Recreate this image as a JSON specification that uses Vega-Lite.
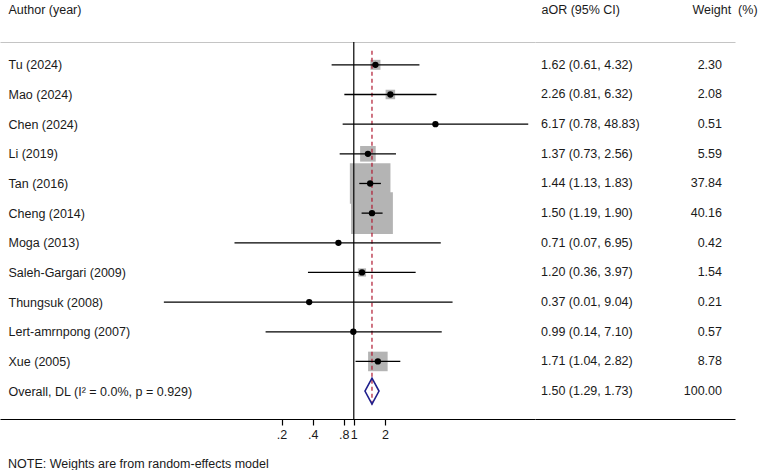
{
  "$schema": "https://vega.github.io/schema/vega-lite/v6.json",
  "background": "white",
  "padding": {"top": 3, "left": 0, "right": 0, "bottom": 0},
  "config": {
    "view": {"stroke": null},
    "font": "Liberation Sans",
    "text": {"font": "Liberation Sans", "fontSize": 12.5, "color": "#1a1a1a"},
    "axis": {"labelFont": "Liberation Sans", "titleFont": "Liberation Sans", "grid": false}
  },
  "datasets": {
    "studies": [
      {"study": "Tu (2024)", "kind": "study", "or": 1.62, "lo": 0.61, "hi": 4.32, "weight": 2.30},
      {"study": "Mao (2024)", "kind": "study", "or": 2.26, "lo": 0.81, "hi": 6.32, "weight": 2.08},
      {"study": "Chen (2024)", "kind": "study", "or": 6.17, "lo": 0.78, "hi": 48.83, "weight": 0.51},
      {"study": "Li (2019)", "kind": "study", "or": 1.37, "lo": 0.73, "hi": 2.56, "weight": 5.59},
      {"study": "Tan (2016)", "kind": "study", "or": 1.44, "lo": 1.13, "hi": 1.83, "weight": 37.84},
      {"study": "Cheng (2014)", "kind": "study", "or": 1.50, "lo": 1.19, "hi": 1.90, "weight": 40.16},
      {"study": "Moga (2013)", "kind": "study", "or": 0.71, "lo": 0.07, "hi": 6.95, "weight": 0.42},
      {"study": "Saleh-Gargari (2009)", "kind": "study", "or": 1.20, "lo": 0.36, "hi": 3.97, "weight": 1.54},
      {"study": "Thungsuk (2008)", "kind": "study", "or": 0.37, "lo": 0.0145, "hi": 9.04, "weight": 0.21},
      {"study": "Lert-amrnpong (2007)", "kind": "study", "or": 0.99, "lo": 0.14, "hi": 7.10, "weight": 0.57},
      {"study": "Xue (2005)", "kind": "study", "or": 1.71, "lo": 1.04, "hi": 2.82, "weight": 8.78},
      {"study": "Overall, DL (I² = 0.0%, p = 0.929)", "kind": "overall", "or": 1.50, "lo": 1.29, "hi": 1.73, "weight": 100.00}
    ]
  },
  "title": {
    "text": "NOTE: Weights are from random-effects model",
    "orient": "bottom",
    "anchor": "start",
    "dx": 8,
    "offset": 17,
    "font": "Liberation Sans",
    "fontSize": 12.5,
    "fontWeight": "normal",
    "color": "#1a1a1a"
  },
  "spacing": 0,
  "hconcat": [
    {
      "width": 535,
      "height": 377,
      "data": {"name": "studies"},
      "layer": [
        {
          "transform": [{"filter": "datum.kind == 'study'"}],
          "mark": {"type": "point", "shape": "square", "filled": true, "color": "#b4b4b4", "opacity": 1},
          "encoding": {
            "x": {"field": "or", "type": "quantitative", "scale": {"type": "log", "domain": [0.000376, 56.77], "nice": false}, "axis": null},
            "y": {"field": "study", "type": "nominal",
                  "scale": {"type": "point", "padding": 0.855, "align": 0.45,
                            "domain": ["Tu (2024)", "Mao (2024)", "Chen (2024)", "Li (2019)", "Tan (2016)", "Cheng (2014)", "Moga (2013)", "Saleh-Gargari (2009)", "Thungsuk (2008)", "Lert-amrnpong (2007)", "Xue (2005)", "Overall, DL (I² = 0.0%, p = 0.929)"]},
                  "axis": {"orient": "left", "domain": false, "ticks": false, "tickSize": 0, "labelAlign": "left", "labelPadding": -8,
                           "labelLimit": 0, "labelFontSize": 12.5, "labelColor": "#1a1a1a",
                           "title": "Author (year)", "titleAngle": 0, "titleAlign": "left", "titleBaseline": "middle",
                           "titleX": 8, "titleY": -33, "titleFontSize": 12.5, "titleFontWeight": "normal", "titleColor": "#1a1a1a"}},
            "size": {"field": "weight", "type": "quantitative", "legend": null, "scale": {"type": "linear", "domain": [0, 40], "range": [0, 1742]}}
          }
        },
        {
          "data": {"values": [{"null_or": 1}]},
          "mark": {"type": "rule", "color": "black", "strokeWidth": 1.2},
          "encoding": {
            "x": {"field": "null_or", "type": "quantitative",
                  "axis": {"orient": "top", "labels": false, "ticks": false, "title": null, "domainColor": "#c4c4c4", "domainWidth": 1.2}}
          }
        },
        {
          "transform": [{"filter": "datum.kind == 'overall'"}],
          "mark": {"type": "rule", "color": "#b01830", "strokeWidth": 1.2, "strokeDash": [4, 3], "yOffset": -14, "y2Offset": 13.5},
          "encoding": {
            "x": {"field": "or", "type": "quantitative", "axis": null},
            "y": {"datum": "Tu (2024)", "type": "nominal", "axis": null},
            "y2": {"datum": "Overall, DL (I² = 0.0%, p = 0.929)"}
          }
        },
        {
          "transform": [{"filter": "datum.kind == 'study'"}],
          "mark": {"type": "rule", "color": "black", "strokeWidth": 1.3},
          "encoding": {
            "x": {"field": "lo", "type": "quantitative",
                  "axis": {"orient": "bottom", "values": [0.2, 0.4, 0.8, 1, 2], "title": null,
                           "labelExpr": "datum.value < 1 ? '.' + format(datum.value * 10, 'd') : format(datum.value, 'd')",
                           "labelOverlap": false, "labelFlush": false, "domainColor": "black", "domainWidth": 1.2,
                           "tickColor": "black", "tickWidth": 1.2, "tickSize": 6, "labelPadding": 3,
                           "labelFontSize": 12.5, "labelColor": "#1a1a1a"}},
            "x2": {"field": "hi"},
            "y": {"field": "study", "type": "nominal", "axis": null}
          }
        },
        {
          "transform": [{"filter": "datum.kind == 'study'"}],
          "mark": {"type": "point", "shape": "circle", "filled": true, "color": "black", "opacity": 1, "size": 40},
          "encoding": {
            "x": {"field": "or", "type": "quantitative", "axis": null},
            "y": {"field": "study", "type": "nominal", "axis": null}
          }
        },
        {
          "transform": [{"filter": "datum.kind == 'overall'"}],
          "mark": {"type": "point", "shape": "M-0.54,0L0,-1L0.54,0L0,1Z", "filled": false, "color": "#1f1f8c", "strokeWidth": 1.6, "opacity": 1, "size": 676},
          "encoding": {
            "x": {"field": "or", "type": "quantitative", "axis": null},
            "y": {"field": "study", "type": "nominal", "axis": null}
          }
        }
      ],
      "resolve": {"axis": {"x": "independent", "y": "independent"}}
    },
    {
      "width": 200,
      "height": 377,
      "data": {"name": "studies"},
      "transform": [
        {"calculate": "format(datum.or, '.2f') + ' (' + format(datum.lo, '.2f') + ', ' + format(datum.hi, '.2f') + ')'", "as": "ci_text"},
        {"calculate": "format(datum.weight, '.2f')", "as": "weight_text"}
      ],
      "layer": [
        {
          "mark": {"type": "text", "align": "left", "baseline": "middle"},
          "encoding": {
            "x": {"datum": "aOR (95% CI)", "type": "nominal",
                  "scale": {"type": "point", "domain": ["aOR (95% CI)", "Weight\u00a0\u00a0(%)"], "padding": 0.0525, "align": 0.316},
                  "axis": {"orient": "top", "ticks": false, "tickSize": 0, "title": null, "domainColor": "#c4c4c4", "domainWidth": 1.2,
                           "labelAlign": "left", "labelBaseline": "middle", "labelPadding": 33, "labelAngle": 0,
                           "labelOffset": {"condition": {"test": "datum.value != 'aOR (95% CI)'", "value": -30}, "value": 0},
                           "labelFontSize": 12.5, "labelColor": "#1a1a1a", "labelLimit": 0}},
            "y": {"field": "study", "type": "nominal", "axis": null,
                  "scale": {"type": "point", "padding": 0.855, "align": 0.45,
                            "domain": ["Tu (2024)", "Mao (2024)", "Chen (2024)", "Li (2019)", "Tan (2016)", "Cheng (2014)", "Moga (2013)", "Saleh-Gargari (2009)", "Thungsuk (2008)", "Lert-amrnpong (2007)", "Xue (2005)", "Overall, DL (I² = 0.0%, p = 0.929)"]}},
            "text": {"field": "ci_text"}
          }
        },
        {
          "mark": {"type": "text", "align": "right", "baseline": "middle"},
          "encoding": {
            "x": {"datum": "Weight\u00a0\u00a0(%)", "type": "nominal",
                  "axis": {"orient": "bottom", "labels": false, "ticks": false, "title": null, "domainColor": "black", "domainWidth": 1.2}},
            "y": {"field": "study", "type": "nominal", "axis": null},
            "text": {"field": "weight_text"}
          }
        }
      ],
      "resolve": {"axis": {"x": "independent"}}
    }
  ]
}
